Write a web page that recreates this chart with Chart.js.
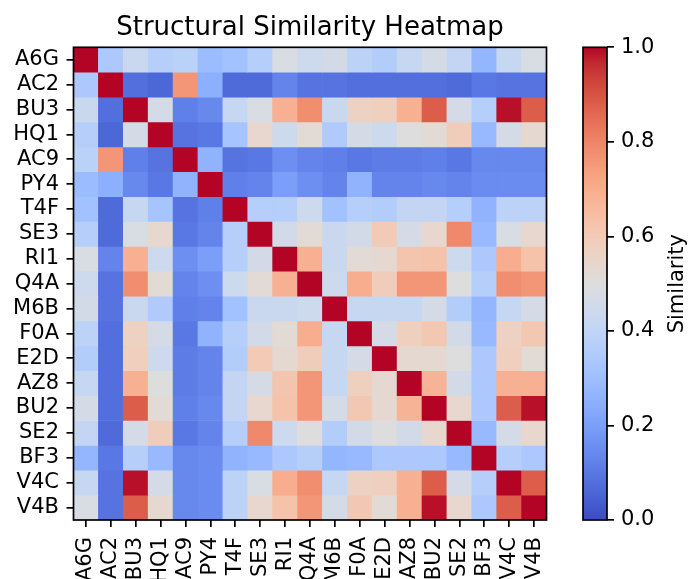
<!DOCTYPE html>
<html><head><meta charset="utf-8">
<script src="https://cdn.jsdelivr.net/npm/chart.js@4.4.1/dist/chart.umd.min.js"></script>
<style>
html,body{margin:0;padding:0;background:#fff;}
#wrap{position:relative;width:688px;height:579px;overflow:hidden;background:#fff;}
#main{position:absolute;left:0;top:0;}
#cbar{position:absolute;left:556px;top:0;}
</style></head><body>
<div id="wrap">
<canvas id="main" width="688" height="579"></canvas>
<canvas id="cbar" width="132" height="579"></canvas>
</div>
<script>
// ---------- data ----------
const labels = ['A6G','AC2','BU3','HQ1','AC9','PY4','T4F','SE3','RI1','Q4A','M6B','F0A','E2D','AZ8','BU2','SE2','BF3','V4C','V4B'];
const similarity = [
  [1.00,0.34,0.43,0.37,0.38,0.29,0.31,0.37,0.48,0.44,0.46,0.39,0.36,0.42,0.47,0.41,0.27,0.42,0.48],
  [0.34,1.00,0.08,0.06,0.76,0.25,0.07,0.07,0.13,0.09,0.09,0.08,0.08,0.08,0.08,0.07,0.10,0.09,0.09],
  [0.43,0.08,1.00,0.47,0.12,0.14,0.42,0.48,0.69,0.78,0.43,0.57,0.58,0.69,0.88,0.47,0.37,0.99,0.88],
  [0.37,0.06,0.47,1.00,0.09,0.10,0.32,0.54,0.44,0.52,0.35,0.47,0.44,0.50,0.52,0.59,0.28,0.47,0.53],
  [0.38,0.76,0.12,0.09,1.00,0.26,0.09,0.10,0.16,0.13,0.12,0.10,0.11,0.11,0.12,0.10,0.14,0.14,0.14],
  [0.29,0.25,0.14,0.10,0.26,1.00,0.12,0.13,0.20,0.16,0.13,0.26,0.13,0.13,0.14,0.13,0.15,0.15,0.15],
  [0.31,0.07,0.42,0.32,0.09,0.12,1.00,0.37,0.37,0.44,0.31,0.37,0.36,0.41,0.41,0.37,0.26,0.39,0.39],
  [0.37,0.07,0.48,0.54,0.10,0.13,0.37,1.00,0.46,0.52,0.43,0.46,0.60,0.47,0.54,0.79,0.28,0.48,0.54],
  [0.48,0.13,0.69,0.44,0.16,0.20,0.37,0.46,1.00,0.69,0.43,0.52,0.53,0.62,0.63,0.44,0.34,0.70,0.63],
  [0.44,0.09,0.78,0.52,0.13,0.16,0.44,0.52,0.69,1.00,0.44,0.70,0.59,0.76,0.76,0.50,0.37,0.78,0.76],
  [0.46,0.09,0.43,0.35,0.12,0.13,0.31,0.43,0.43,0.44,1.00,0.42,0.42,0.42,0.47,0.36,0.27,0.42,0.47],
  [0.39,0.08,0.57,0.47,0.10,0.26,0.37,0.46,0.52,0.70,0.42,1.00,0.47,0.58,0.61,0.46,0.28,0.57,0.61],
  [0.36,0.08,0.58,0.44,0.11,0.13,0.36,0.60,0.53,0.59,0.42,0.47,1.00,0.53,0.53,0.50,0.34,0.58,0.52],
  [0.42,0.08,0.69,0.50,0.11,0.13,0.41,0.47,0.62,0.76,0.42,0.58,0.53,1.00,0.68,0.46,0.34,0.69,0.69],
  [0.47,0.08,0.88,0.52,0.12,0.14,0.41,0.54,0.63,0.76,0.47,0.61,0.53,0.68,1.00,0.54,0.34,0.88,0.99],
  [0.41,0.07,0.47,0.59,0.10,0.13,0.37,0.79,0.44,0.50,0.36,0.46,0.50,0.46,0.54,1.00,0.28,0.47,0.54],
  [0.27,0.10,0.37,0.28,0.14,0.15,0.26,0.28,0.34,0.37,0.27,0.28,0.34,0.34,0.34,0.28,1.00,0.37,0.34],
  [0.42,0.09,0.99,0.47,0.14,0.15,0.39,0.48,0.70,0.78,0.42,0.57,0.58,0.69,0.88,0.47,0.37,1.00,0.88],
  [0.48,0.09,0.88,0.53,0.14,0.15,0.39,0.54,0.63,0.76,0.47,0.61,0.52,0.69,0.99,0.54,0.34,0.88,1.00]
];
const colorbarTicks = [0.0, 0.2, 0.4, 0.6, 0.8, 1.0];
const chartTitle = 'Structural Similarity Heatmap';
const colorbarLabel = 'Similarity';

// ---------- coolwarm colormap ----------
const COOLWARM = [
  [59,76,192],[68,90,204],[77,104,215],[87,117,225],[98,130,234],[108,142,241],[119,154,247],[130,165,251],
  [141,176,254],[152,185,255],[163,194,255],[174,201,253],[184,208,249],[194,213,244],[204,217,238],[213,219,230],
  [221,221,221],[229,216,209],[236,211,197],[241,204,184],[245,196,172],[247,187,159],[247,177,147],[247,167,134],
  [244,154,123],[241,141,111],[236,127,99],[229,112,88],[222,96,77],[213,80,66],[203,62,56],[192,40,47],[180,4,38]
];
function coolwarm(v) {
  v = Math.max(0, Math.min(1, v));
  const p = v * (COOLWARM.length - 1);
  const i = Math.min(Math.floor(p), COOLWARM.length - 2);
  const t = p - i;
  const a = COOLWARM[i], b = COOLWARM[i + 1];
  const c = a.map((x, k) => Math.round(x + (b[k] - x) * t));
  return `rgb(${c[0]},${c[1]},${c[2]})`;
}

const FONT = "'DejaVu Sans', 'Liberation Sans', sans-serif";
Chart.defaults.font.family = FONT;
Chart.defaults.color = '#000';
const TICK_FONT = { family: FONT, size: 21 };
const LW = 1.7;

const framePlugin = {
  id: 'frame',
  afterDraw(chart) {
    const { ctx, chartArea: a } = chart;
    ctx.save();
    ctx.strokeStyle = '#000';
    ctx.lineWidth = LW;
    ctx.strokeRect(a.left, a.top, a.right - a.left, a.bottom - a.top);
    ctx.restore();
  }
};

const titlePlugin = {
  id: 'ctitle',
  afterDraw(chart) {
    const { ctx, chartArea: a } = chart;
    ctx.save();
    ctx.fillStyle = '#000';
    ctx.font = `26px ${FONT}`;
    ctx.textAlign = 'center';
    ctx.textBaseline = 'alphabetic';
    ctx.fillText(chartTitle, (a.left + a.right) / 2, a.top - 12.5);
    ctx.restore();
  }
};

// ---------- heatmap ----------
const datasets = similarity.map((row, r) => ({
  data: row.map(() => [r - 0.5, r + 0.5]),
  backgroundColor: row.map(v => coolwarm(v)),
  borderWidth: 0,
  barPercentage: 1,
  categoryPercentage: 1,
  grouped: false
}));

new Chart(document.getElementById('main'), {
  type: 'bar',
  data: { labels: labels, datasets: datasets },
  options: {
    responsive: false,
    animation: false,
    layout: { padding: { left: 0, top: 47.3, right: 141.5, bottom: 0 } },
    plugins: { legend: { display: false }, tooltip: { enabled: false }, title: { display: false } },
    scales: {
      x: {
        type: 'category',
        offset: true,
        grid: { display: true, drawOnChartArea: false, drawTicks: true, tickLength: 7, tickColor: '#000', lineWidth: LW, offset: false },
        border: { display: false },
        ticks: { font: TICK_FONT, color: '#000', minRotation: 90, maxRotation: 90, padding: 10, autoSkip: false },
        afterFit(s) { s.height = 59; }
      },
      y: {
        type: 'linear',
        min: -0.5,
        max: 18.5,
        reverse: true,
        afterBuildTicks(s) { s.ticks = labels.map((_, i) => ({ value: i })); },
        grid: { display: true, drawOnChartArea: false, drawTicks: true, tickLength: 7, tickColor: '#000', lineWidth: LW },
        border: { display: false },
        ticks: { font: TICK_FONT, color: '#000', padding: 7.5, autoSkip: false, callback: (v) => labels[Math.round(v)] },
        afterFit(s) { s.width = 73.5; }
      }
    }
  },
  plugins: [framePlugin, titlePlugin]
});

// ---------- colorbar ----------
function cbarGradient(chart) {
  const a = chart.chartArea;
  if (!a) return coolwarm(0.5);
  const g = chart.ctx.createLinearGradient(0, a.bottom, 0, a.top);
  COOLWARM.forEach((c, i) => g.addColorStop(i / (COOLWARM.length - 1), `rgb(${c[0]},${c[1]},${c[2]})`));
  return g;
}

const cbarLabelPlugin = {
  id: 'cbarLabel',
  afterDraw(chart) {
    const { ctx, chartArea: a } = chart;
    ctx.save();
    ctx.fillStyle = '#000';
    ctx.font = `21px ${FONT}`;
    ctx.translate(122, (a.top + a.bottom) / 2);
    ctx.rotate(-Math.PI / 2);
    ctx.textAlign = 'center';
    ctx.textBaseline = 'middle';
    ctx.fillText(colorbarLabel, 0, 0);
    ctx.restore();
  }
};

new Chart(document.getElementById('cbar'), {
  type: 'bar',
  data: { labels: [''], datasets: [{ data: [[colorbarTicks[0], colorbarTicks[colorbarTicks.length - 1]]], backgroundColor: (c) => cbarGradient(c.chart), borderWidth: 0, barPercentage: 1, categoryPercentage: 1 }] },
  options: {
    responsive: false,
    animation: false,
    layout: { padding: { left: 27, top: 47.3, right: 0, bottom: 59 } },
    plugins: { legend: { display: false }, tooltip: { enabled: false } },
    scales: {
      x: { display: false },
      y: {
        position: 'right',
        min: 0,
        max: 1,
        afterBuildTicks(s) { s.ticks = colorbarTicks.map(v => ({ value: v })); },
        grid: { display: true, drawOnChartArea: false, drawTicks: true, tickLength: 7, tickColor: '#000', lineWidth: LW },
        border: { display: false },
        ticks: { font: TICK_FONT, color: '#000', padding: 7, callback: (v) => Number(v).toFixed(1) },
        afterFit(s) { s.width = 81; }
      }
    }
  },
  plugins: [framePlugin, cbarLabelPlugin]
});
</script>
</body></html>
